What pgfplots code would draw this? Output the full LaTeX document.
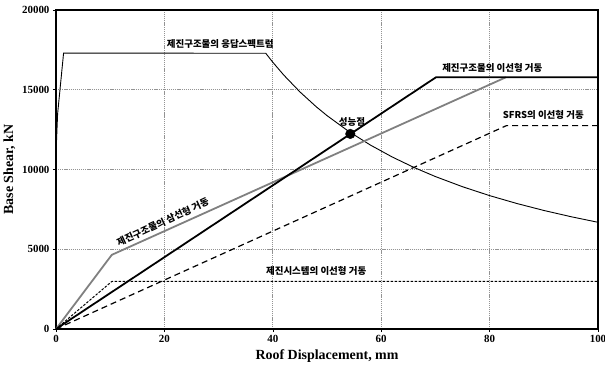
\documentclass[border=0pt]{standalone}
\usepackage{fontspec}
\setmainfont{Liberation Serif}
\newfontfamily\kr{Noto Sans CJK KR}
\usepackage{pgfplots}
\pgfplotsset{compat=1.18}
\begin{document}
\begin{tikzpicture}
\begin{axis}[
  scale only axis, width=542bp, height=319bp,
  xmin=0, xmax=100, ymin=0, ymax=20000,
  xtick={0,20,40,60,80,100}, ytick={0,5000,10000,15000,20000},
  scaled y ticks=false,
  /pgf/number format/assume math mode=true,
  /pgf/number format/fixed, /pgf/number format/1000 sep={},
  ticklabel style={font=\fontsize{11}{12}\selectfont\bfseries},
  grid=major,
  major grid style={gray!85, dash pattern=on 1.2pt off 0.9pt, line width=0.65pt},
  axis line style={line width=2pt},
  tick pos=left, tick align=outside, major tick length=3bp,
  tick style={black, line width=0.6pt},
  xlabel={Roof Displacement, mm}, ylabel={Base Shear, kN},
  label style={font=\fontsize{14}{16}\selectfont\bfseries},
  clip=false,
]
% response spectrum
\addplot[black, line width=0.9pt] coordinates {(0,11000)(0.3,13500)(1.4,17300)(38.7,17287)(40,16725)(42,15929)(45,14867)(48,13938)(50,13380)(54,12389)(58,11534)(62,10790)(66,10136)(70,9557)(75,8920)(80,8363)(85,7871)(90,7433)(95,7042)(100,6690)};
% trilinear (gray)
\addplot[gray, line width=1.8pt] coordinates {(0,0)(10.3,4650)(83,15780)};
% bilinear of damped structure
\addplot[black, line width=1.8pt] coordinates {(0,0)(70.1,15780)(100,15780)};
% SFRS bilinear
\addplot[black, line width=1.2pt, dash pattern=on 6bp off 4bp] coordinates {(0,0)(83.1,12750)(100,12750)};
% damper system bilinear
\addplot[black, line width=1pt, dash pattern=on 2.5bp off 1.5bp] coordinates {(0,0)(10.3,2980)(100,2980)};
% performance point
\addplot[only marks, mark=*, mark size=4.8bp, black] coordinates {(54.3,12230)};
\coordinate (ll) at (rel axis cs:0,0);
\coordinate (ur) at (rel axis cs:1,1);
\begin{scope}[every node/.style={font=\kr\bfseries\fontsize{9.5}{11}\selectfont, inner sep=0pt}]
\node at (axis cs:30.3,17850) {제진구조물의 응답스펙트럼};
\node at (axis cs:80.5,16370) {제진구조물의 이선형 거동};
\node at (axis cs:54.6,12950) {성능점};
\node at (axis cs:89.9,13440) {SFRS의 이선형 거동};
\node[rotate=25] at (axis cs:19.7,6700) {제진구조물의 삼선형 거동};
\node at (axis cs:48,3650) {제진시스템의 이선형 거동};
\end{scope}
\end{axis}
\pgfresetboundingbox
\path ([xshift=-56bp,yshift=-43bp]ll) rectangle ([xshift=7bp,yshift=10bp]ur);
\end{tikzpicture}
\end{document}
